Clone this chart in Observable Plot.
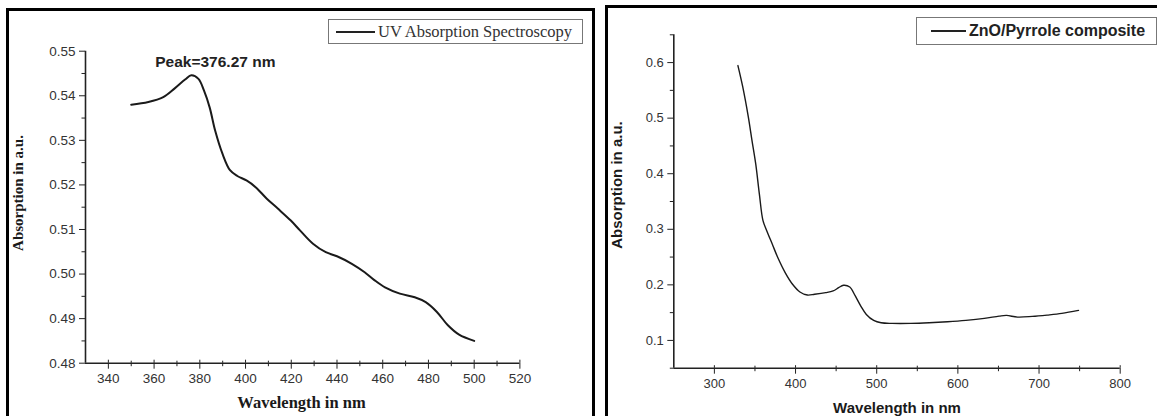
<!DOCTYPE html>
<html><head><meta charset="utf-8">
<script src="https://cdn.jsdelivr.net/npm/d3@7"></script>
<script src="https://cdn.jsdelivr.net/npm/@observablehq/plot@0.6"></script>
<style>
html,body{margin:0;padding:0;background:#fff;}
body{width:1157px;height:416px;overflow:hidden;position:relative;}
.panel{position:absolute;border:3px solid #000;box-sizing:border-box;}
.plotwrap{position:absolute;top:0;}
.title{position:absolute;white-space:nowrap;font-weight:bold;color:#1a1a1a;}
.legend{position:absolute;border:1px solid #777;box-sizing:border-box;display:flex;align-items:center;background:#fff;}
.legend .sw{background:#222;}
</style></head><body>
<div class="panel" style="left:6px;top:8px;width:589px;height:430px;"></div>
<div class="panel" style="left:605px;top:5px;width:570px;height:430px;border-width:3.5px;"></div>
<div id="left" class="plotwrap" style="left:0px;"></div>
<div id="right" class="plotwrap" style="left:600px;"></div>
<div class="title" style="left:18px;top:193px;transform:translate(-50%,-50%) rotate(-90deg);font-family:'Liberation Serif','Times New Roman',serif;font-size:15px;">Absorption in a.u.</div>
<div class="title" style="left:301.5px;top:395px;transform:translateX(-50%);font-family:'Liberation Serif','Times New Roman',serif;font-size:16.5px;line-height:16px;">Wavelength in nm</div>
<div class="title" style="left:616px;top:185px;transform:translate(-50%,-50%) rotate(-90deg);font-family:'Liberation Sans',Arial,sans-serif;font-size:15px;">Absorption in a.u.</div>
<div class="title" style="left:897px;top:400px;transform:translateX(-50%);font-family:'Liberation Sans',Arial,sans-serif;font-size:15px;line-height:15px;">Wavelength in nm</div>
<div class="legend" style="left:328px;top:19px;width:255px;height:25px;">
  <span class="sw" style="margin-left:7px;width:39px;height:2px;"></span>
  <span style="margin-left:3px;font-family:'Liberation Serif','Times New Roman',serif;font-size:16.5px;color:#333;white-space:nowrap;">UV Absorption Spectroscopy</span>
</div>
<div class="legend" style="left:916px;top:17px;width:241px;height:28px;">
  <span class="sw" style="margin-left:14px;width:35px;height:1.5px;"></span>
  <span style="margin-left:3px;font-family:'Liberation Sans',Arial,sans-serif;font-weight:bold;font-size:16px;color:#222;white-space:nowrap;">ZnO/Pyrrole composite</span>
</div>
<script>
// ---- Left chart data: UV absorption spectroscopy ----
const uvWavelength = [350, 357.5, 364, 368.9, 373.7, 376.3, 379.4, 381.8, 384.3, 386.7, 389.9, 393.2, 396.4, 400.4, 404.4, 409.3, 414.1, 419.8, 423.8, 429.5, 435.1, 440, 446.5, 452.1, 456.2, 461, 467.5, 474, 478.8, 483.7, 488.5, 493.4, 500];
const uvAbsorption = [0.5380, 0.5386, 0.5397, 0.5416, 0.5437, 0.5446, 0.5438, 0.5412, 0.5374, 0.5322, 0.5270, 0.5233, 0.5220, 0.5210, 0.5195, 0.5169, 0.5147, 0.5120, 0.5098, 0.5068, 0.5049, 0.5040, 0.5023, 0.5004, 0.4987, 0.4970, 0.4956, 0.4948, 0.4937, 0.4915, 0.4885, 0.4864, 0.4850];
const uvXTicks = [340, 360, 380, 400, 420, 440, 460, 480, 500, 520];
const uvXMinor = [350, 370, 390, 410, 430, 450, 470, 490, 510];
const uvYTicks = [0.48, 0.49, 0.50, 0.51, 0.52, 0.53, 0.54, 0.55];
const uvYMinor = [0.485, 0.495, 0.505, 0.515, 0.525, 0.535, 0.545];
const uvPeakLabel = [{x: 386.8, y: 0.5476, text: "Peak=376.27 nm"}];

// ---- Right chart data: ZnO/Pyrrole composite ----
const compWavelength = [329, 334.9, 341.8, 346.3, 350.9, 355.4, 359.9, 364.5, 371.3, 378.1, 387.2, 396.3, 405.4, 414.5, 423.5, 437.2, 446.3, 453.1, 459, 466.8, 473.6, 480.4, 487.2, 496.3, 505.4, 519.1, 541.8, 564.5, 587.2, 609.9, 632.6, 650.8, 659.9, 673.5, 691.7, 709.9, 728.1, 748.6];
const compAbsorption = [0.5946, 0.5566, 0.5023, 0.4602, 0.4181, 0.3638, 0.3155, 0.2975, 0.2734, 0.2492, 0.2221, 0.2011, 0.1872, 0.1817, 0.1830, 0.1859, 0.1890, 0.1949, 0.1993, 0.1962, 0.1800, 0.1619, 0.1468, 0.1360, 0.1317, 0.1306, 0.1306, 0.1317, 0.1335, 0.1360, 0.1396, 0.1437, 0.1450, 0.1420, 0.1432, 0.1456, 0.1486, 0.1540];
const compXTicks = [300, 400, 500, 600, 700, 800];
const compXMinor = [350, 450, 550, 650, 750];
const compYTicks = [0.1, 0.2, 0.3, 0.4, 0.5, 0.6];
const compYMinor = [0.05, 0.15, 0.25, 0.35, 0.45, 0.55, 0.65];

const uvData = uvWavelength.map((x, i) => ({x, y: uvAbsorption[i]}));
const compData = compWavelength.map((x, i) => ({x, y: compAbsorption[i]}));

const styleFor = (size) => ({fontFamily: "'Liberation Sans', Arial, sans-serif", fontSize: size, color: "#333", background: "transparent", overflow: "visible"});
const none = () => "";

const left = Plot.plot({
  width: 600, height: 416,
  marginLeft: 85, marginRight: 80.6, marginTop: 50.7, marginBottom: 53.3,
  style: styleFor("13.5px"),
  x: {domain: [330, 520]},
  y: {domain: [0.48, 0.55]},
  marks: [
    Plot.axisX({ticks: uvXTicks, tickSize: 6, tickPadding: 4, tickFormat: d3.format("d"), stroke: "#222", label: null}),
    Plot.axisX({ticks: uvXTicks, tickSize: -3, tickFormat: none, stroke: "#222", label: null}),
    Plot.axisX({ticks: uvXMinor, tickSize: 3.5, tickFormat: none, stroke: "#222", label: null}),
    Plot.axisX({ticks: uvXMinor, tickSize: -2, tickFormat: none, stroke: "#222", label: null}),
    Plot.axisY({ticks: uvYTicks, tickSize: 6, tickPadding: 4, tickFormat: d3.format(".2f"), stroke: "#222", label: null}),
    Plot.axisY({ticks: uvYMinor, tickSize: 3.5, tickFormat: none, stroke: "#222", label: null}),
    Plot.ruleX([330], {stroke: "#222", strokeWidth: 1.6}),
    Plot.ruleY([0.48], {stroke: "#222", strokeWidth: 1.6}),
    Plot.line(uvData, {x: "x", y: "y", curve: "catmull-rom", stroke: "#1a1a1a", strokeWidth: 2}),
    Plot.text(uvPeakLabel, {x: "x", y: "y", text: "text", fontWeight: "bold", fontSize: 15.5, fill: "#222", textAnchor: "middle"})
  ]
});
document.getElementById("left").appendChild(left);

const right = Plot.plot({
  width: 557, height: 416,
  marginLeft: 73.3, marginRight: 37.3, marginTop: 34.3, marginBottom: 48.3,
  style: styleFor("13px"),
  x: {domain: [250, 800]},
  y: {domain: [0.05, 0.65]},
  marks: [
    Plot.axisX({ticks: compXTicks, tickSize: 6, tickPadding: 5, tickFormat: d3.format("d"), stroke: "#222", label: null}),
    Plot.axisX({ticks: compXTicks, tickSize: -2.5, tickFormat: none, stroke: "#222", label: null}),
    Plot.axisX({ticks: compXMinor, tickSize: 3.5, tickFormat: none, stroke: "#222", label: null}),
    Plot.axisX({ticks: compXMinor, tickSize: -2, tickFormat: none, stroke: "#222", label: null}),
    Plot.axisY({ticks: compYTicks, tickSize: 6, tickPadding: 4, tickFormat: d3.format(".1f"), stroke: "#222", label: null}),
    Plot.axisY({ticks: compYMinor, tickSize: 3.5, tickFormat: none, stroke: "#222", label: null}),
    Plot.ruleX([250], {stroke: "#222", strokeWidth: 1.6}),
    Plot.ruleY([0.05], {stroke: "#222", strokeWidth: 1.6}),
    Plot.line(compData, {x: "x", y: "y", curve: "catmull-rom", stroke: "#1a1a1a", strokeWidth: 1.4})
  ]
});
document.getElementById("right").appendChild(right);
</script>
</body></html>
